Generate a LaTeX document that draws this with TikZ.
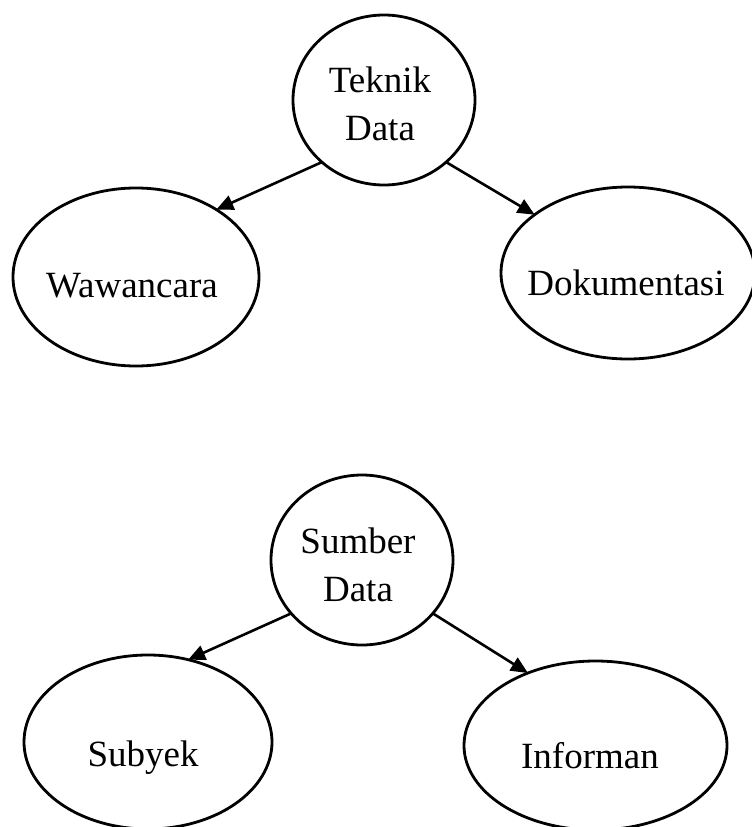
\documentclass[tikz,border=0pt]{standalone}
\usepackage{fontspec}
\setmainfont{Liberation Serif}
\usetikzlibrary{shapes.geometric,arrows.meta}
\tikzset{
  ell/.style={ellipse, draw=black, line width=2.8pt, inner sep=0pt, outer sep=0pt},
  lbl/.style={font=\fontsize{37}{48}\selectfont, inner sep=0pt, outer sep=0pt, align=center, anchor=base},
  arr/.style={line width=2.6pt, -{Triangle[length=17pt,width=15pt]}}
}
\begin{document}
\begin{tikzpicture}[x=1pt,y=-1pt]
\useasboundingbox[fill=white] (0,0) rectangle (752,827);
% ellipses
\node[ell, minimum width=182pt, minimum height=170pt] (td) at (384,100) {};
\node[ell, minimum width=246pt, minimum height=178pt] (ww) at (136,277) {};
\node[ell, minimum width=254pt, minimum height=172pt] (dk) at (628,273) {};
\node[ell, minimum width=182pt, minimum height=170pt] (sd) at (362,560) {};
\node[ell, minimum width=248pt, minimum height=174pt] (sb) at (148,742) {};
\node[ell, minimum width=263pt, minimum height=169pt] (inf) at (595.5,745.5) {};
% texts (base = baseline of last line)
\node[lbl] (tdt) at (380,140.7) {Teknik\\Data};
\node[lbl] (wwt) at (132,297) {Wawancara};
\node[lbl] (dkt) at (626,295) {Dokumentasi};
\node[lbl] (sdt) at (358,601.7) {Sumber\\Data};
\node[lbl] (sbt) at (143,766) {Subyek};
\node[lbl] (inft) at (590,768) {Informan};
% connectors
\draw[arr] (td.225.5) -- (ww.40.4);
\draw[arr] (td.315.9) -- (dk.148.2);
\draw[arr] (sd.217.6) -- (sb.64);
\draw[arr] (sd.323.5) -- (inf.133);
\end{tikzpicture}
\end{document}
